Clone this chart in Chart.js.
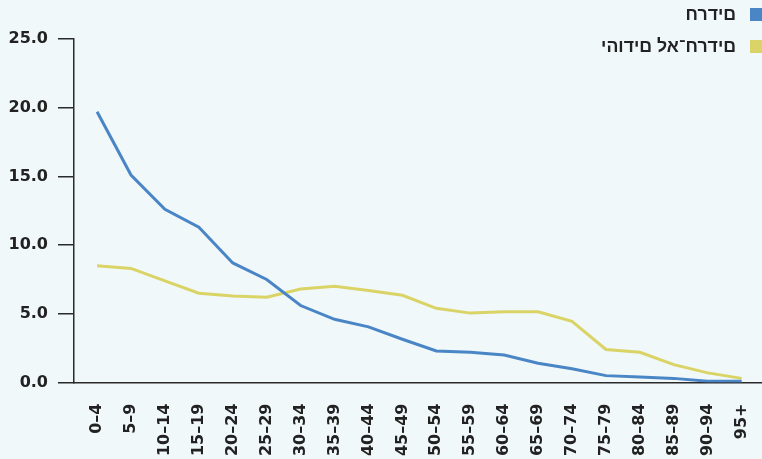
<!DOCTYPE html>
<html lang="he">
<head>
<meta charset="utf-8">
<script src="https://cdn.jsdelivr.net/npm/chart.js@4"></script>
<style>
  html, body { margin: 0; padding: 0; background: #f0f8fa; }
  #wrap { position: relative; width: 762px; height: 459px; overflow: hidden; }
  #legend {
    position: absolute; top: -2px; right: 0; direction: rtl;
    font: bold 17.7px "Liberation Sans", sans-serif; color: #222;
  }
  .item { display: flex; align-items: center; height: 32px; }
  .box { width: 12px; height: 13px; margin-left: 14px; }
  /* the reference draws the hebrew glyphs in plain left-to-right order */
  .txt { unicode-bidi: bidi-override; direction: ltr; }
</style>
</head>
<body>
<div id="wrap">
  <canvas id="chart" width="762" height="459"></canvas>
  <div id="legend"></div>
</div>
<script>
// age groups
const ages = ["0–4", "5–9", "10–14", "15–19", "20–24", "25–29", "30–34", "35–39", "40–44", "45–49",
  "50–54", "55–59", "60–64", "65–69", "70–74", "75–79", "80–84", "85–89", "90–94", "95+"];
// percent of population in each age group
const haredim = [19.7, 15.1, 12.6, 11.3, 8.7, 7.5, 5.6, 4.6, 4.05, 3.15,
  2.3, 2.2, 2.0, 1.4, 1.0, 0.5, 0.4, 0.3, 0.1, 0.1];
const nonHaredim = [8.5, 8.3, 7.4, 6.5, 6.3, 6.2, 6.8, 7.0, 6.7, 6.35,
  5.4, 5.05, 5.15, 5.15, 4.45, 2.4, 2.2, 1.3, 0.7, 0.3];
const yTicks = [0, 5, 10, 15, 20, 25];

const seriesNames = ["חרדים", "יהודים לא־חרדים"];
const seriesColors = ["#4a86c6", "#d9d465"];

const toPoints = arr => arr.map((v, i) => ({ x: i, y: v }));

// legend (stacked, boxes on the right)
const legend = document.getElementById("legend");
seriesNames.forEach((name, i) => {
  const item = document.createElement("div");
  item.className = "item";
  item.innerHTML = '<span class="box" style="background:' + seriesColors[i] + '"></span><span class="txt">' + name + '</span>';
  legend.appendChild(item);
});

const tickFont = { family: "DejaVu Sans", size: 16, weight: "bold" };

new Chart(document.getElementById("chart"), {
  type: "line",
  data: {
    datasets: [
      { label: seriesNames[0], data: toPoints(haredim), borderColor: seriesColors[0], borderWidth: 3, pointRadius: 0, tension: 0 },
      { label: seriesNames[1], data: toPoints(nonHaredim), borderColor: seriesColors[1], borderWidth: 3, pointRadius: 0, tension: 0 },
    ],
  },
  options: {
    responsive: false,
    animation: false,
    layout: { padding: { top: 39, right: 0, left: 0, bottom: 0 } },
    plugins: { legend: { display: false }, tooltip: { enabled: false } },
    scales: {
      x: {
        type: "linear",
        min: -0.68,
        max: 19.6,
        afterBuildTicks: scale => { scale.ticks = ages.map((a, i) => ({ value: i })); },
        afterFit: scale => { scale.height = 76.5; scale.paddingLeft = 0; scale.paddingRight = 0; },
        grid: { display: false, drawTicks: false },
        border: { display: true, color: "#2a2a2a", width: 1.5 },
        ticks: {
          autoSkip: false, minRotation: 90, maxRotation: 90, padding: 21,
          color: "#222", font: tickFont,
          callback: v => ages[v],
        },
      },
      y: {
        min: 0,
        max: 25,
        afterBuildTicks: scale => { scale.ticks = yTicks.map(v => ({ value: v })); },
        afterFit: scale => { scale.width = 74; },
        grid: { drawOnChartArea: false, drawTicks: true, tickLength: 16, color: "#2a2a2a", lineWidth: 1.5 },
        border: { display: true, color: "#2a2a2a", width: 1.5 },
        ticks: { padding: 10, color: "#222", font: tickFont, callback: v => v.toFixed(1) },
      },
    },
  },
});
</script>
</body>
</html>
